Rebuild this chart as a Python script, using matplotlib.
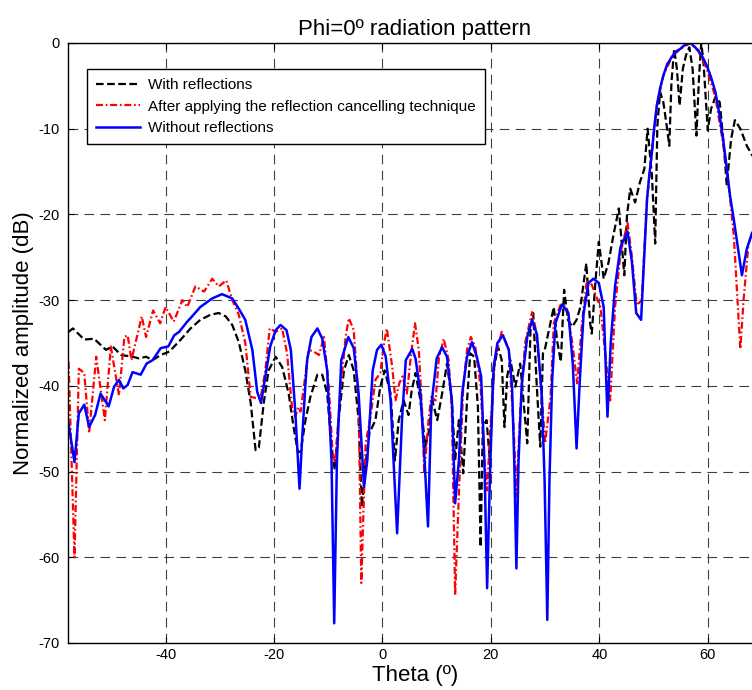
import matplotlib
matplotlib.use("Agg")
import matplotlib.pyplot as plt

plt.rcParams['font.family'] = ['Liberation Sans', 'DejaVu Sans']
plt.rcParams['axes.unicode_minus'] = False
plt.rcParams['lines.scale_dashes'] = False

# (theta in deg, normalized amplitude in dB)
theta_with = [-57.9, -57.1, -55.0, -53.2, -51.0, -49.8, -48.2, -46.1, -44.9, -43.6, -42.4, -40.9,
              -39.3, -37.2, -35.4, -33.6, -31.7, -30.2, -28.9, -27.7, -26.5, -25.3, -24.3, -23.4,
              -22.8, -21.9, -21.0, -19.7, -18.5, -17.3, -16.4, -15.6, -15.1, -14.2, -13.3, -12.0,
              -11.1, -10.2, -9.4, -8.8, -8.1, -7.1, -6.2, -5.3, -4.4, -3.8, -3.2, -2.4, -1.3, -0.4,
              0.4, 1.5, 2.3, 3.0, 3.9, 4.8, 5.4, 6.1, 7.0, 7.9, 8.5, 9.2, 10.1, 11.0, 11.9, 12.8,
              13.4, 14.1, 14.9, 15.6, 16.2, 16.9, 17.6, 18.1, 18.5, 19.2, 19.8, 20.5, 21.3, 22.0,
              22.5, 23.0, 23.6, 24.5, 25.4, 26.1, 26.7, 27.3, 27.8, 28.4, 29.1, 29.6, 30.0, 30.7,
              31.6, 32.2, 32.9, 33.5, 34.2, 35.0, 35.8, 36.5, 37.6, 38.3, 38.6, 39.3, 39.9, 40.8,
              41.7, 42.6, 43.6, 44.6, 45.1, 45.7, 46.6, 47.5, 48.3, 48.9, 49.7, 50.3, 50.7, 51.2,
              51.8, 52.5, 52.9, 53.3, 53.8, 54.3, 54.8, 55.4, 56.0, 56.6, 57.2, 57.9, 58.4, 58.8,
              59.2, 60.0, 60.6, 61.4, 62.2, 62.9, 63.5, 64.3, 65.0, 66.0, 67.2, 68.2, 70.0]
db_with = [-33.7, -33.3, -34.6, -34.5, -35.8, -35.4, -36.4, -36.6, -36.8, -36.6, -37.0, -36.4,
           -36.0, -34.6, -33.3, -32.3, -31.7, -31.5, -31.9, -32.9, -34.9, -38.2, -42.0, -47.5,
           -47.2, -42.0, -38.2, -36.6, -37.8, -40.9, -44.8, -47.7, -47.7, -44.0, -41.3, -38.7,
           -38.7, -40.9, -47.1, -49.8, -44.0, -38.2, -36.4, -38.2, -44.0, -54.1, -49.4, -45.5,
           -44.0, -40.1, -38.2, -40.9, -48.7, -44.0, -41.7, -43.4, -40.5, -38.5, -41.7, -47.1,
           -45.5, -41.7, -44.0, -40.9, -37.4, -41.7, -48.7, -44.0, -50.2, -41.7, -36.2, -36.6,
           -42.4, -58.8, -44.8, -44.0, -48.7, -38.2, -35.4, -37.0, -44.8, -38.9, -37.0, -40.1,
           -37.4, -42.4, -46.7, -33.5, -31.5, -39.3, -47.1, -36.2, -35.6, -33.5, -30.8, -34.7,
           -37.2, -28.8, -32.3, -33.1, -32.3, -30.8, -25.7, -32.7, -33.9, -27.7, -23.2, -27.5,
           -25.6, -22.4, -19.3, -27.1, -20.1, -17.0, -18.6, -16.2, -14.7, -10.0, -15.5, -23.4,
           -9.6, -5.7, -6.9, -10.0, -12.0, -4.6, -0.7, -3.0, -7.3, -3.0, -1.4, -0.5, -3.0, -10.8,
           -3.8, 0.0, -2.2, -10.2, -7.7, -6.3, -6.9, -11.6, -16.6, -11.2, -9.0, -10.0, -12.0,
           -13.1, -14.0]

theta_cancel = [-57.9, -56.8, -56.0, -55.0, -54.1, -52.8, -51.2, -50.1, -48.6, -47.6, -47.0, -46.3,
                -44.4, -43.6, -42.3, -41.0, -40.0, -38.5, -36.9, -36.0, -34.5, -32.9, -31.4, -30.2,
                -28.8, -27.7, -26.5, -25.3, -24.3, -22.5, -21.6, -20.8, -19.7, -18.5, -17.6, -16.7,
                -16.1, -15.5, -15.1, -14.5, -13.6, -12.7, -11.7, -10.8, -9.9, -9.2, -8.7, -7.8, -6.8,
                -6.2, -5.3, -4.4, -3.9, -3.4, -3.1, -2.2, -1.3, -0.4, 0.2, 0.8, 1.8, 2.4, 3.1, 3.7,
                4.5, 5.3, 6.0, 6.7, 7.3, 7.7, 8.5, 9.0, 9.8, 10.4, 11.3, 12.2, 12.8, 13.4, 14.1, 14.9,
                15.6, 16.3, 17.1, 18.1, 18.8, 19.3, 19.9, 20.8, 22.0, 23.3, 24.2, 24.7, 25.4, 26.3,
                27.6, 28.3, 29.1, 30.0, 31.0, 31.6, 32.8, 34.0, 35.1, 35.9, 36.8, 37.7, 38.6, 40.2,
                41.1, 42.0, 42.9, 43.9, 45.2, 46.0, 46.9, 47.8, 48.8, 49.7, 50.6, 51.8, 53.4, 54.9,
                56.8, 58.3, 59.8, 61.4, 62.9, 64.1, 64.8, 65.3, 66.0, 66.6, 67.5, 68.2, 70.0]
db_cancel = [-37.2, -60.0, -38.0, -38.5, -45.5, -36.6, -44.0, -35.4, -41.1, -34.3, -34.1, -37.0,
             -31.9, -34.3, -31.2, -32.7, -30.8, -32.5, -30.0, -30.8, -28.4, -29.0, -27.5, -28.4,
             -27.7, -30.0, -31.7, -35.0, -41.3, -41.5, -38.2, -33.3, -33.7, -33.3, -36.2, -42.4,
             -43.6, -42.5, -43.0, -40.1, -35.8, -36.0, -36.4, -34.3, -40.1, -47.9, -49.0, -40.9,
             -34.3, -32.1, -33.5, -41.7, -63.0, -52.5, -46.7, -43.6, -39.3, -38.5, -35.4, -33.3,
             -37.8, -41.7, -39.7, -38.9, -40.9, -36.2, -32.7, -35.8, -42.8, -50.2, -44.0, -41.3,
             -41.7, -36.8, -34.5, -37.0, -42.8, -64.4, -52.5, -40.1, -35.8, -34.3, -35.4, -40.1,
             -48.7, -52.2, -44.8, -36.6, -33.7, -35.8, -44.8, -52.9, -42.8, -35.0, -31.4, -33.5,
             -38.7, -46.7, -41.3, -32.7, -30.6, -30.8, -35.4, -39.7, -32.7, -27.7, -28.2, -30.8,
             -36.2, -41.7, -30.8, -24.5, -21.0, -24.9, -30.6, -30.0, -18.2, -12.7, -7.3, -3.8,
             -1.6, -0.7, 0.0, -1.0, -3.0, -6.3, -12.0, -18.0, -22.5, -28.0, -35.7, -30.0, -23.5,
             -22.1, -21.5]

theta_without = [-57.9, -56.8, -56.0, -55.0, -54.1, -53.0, -52.0, -50.5, -49.5, -48.6, -47.8, -47.0,
                 -46.1, -44.6, -43.5, -42.4, -40.9, -39.5, -38.4, -37.5, -36.0, -35.4, -33.6, -31.4,
                 -29.6, -27.7, -26.5, -25.3, -24.0, -23.1, -22.4, -21.6, -20.7, -19.7, -18.8, -17.7,
                 -16.9, -16.1, -15.3, -14.8, -14.2, -13.9, -13.1, -12.0, -11.1, -10.2, -9.4, -8.9,
                 -8.4, -7.6, -6.3, -5.3, -4.4, -3.4, -2.8, -1.8, -1.0, -0.2, 0.6, 1.5, 2.7, 3.6, 4.3,
                 5.5, 6.1, 7.0, 7.7, 8.4, 9.0, 10.0, 11.0, 11.9, 12.8, 13.4, 14.1, 14.7, 15.6, 16.5,
                 17.4, 18.2, 18.8, 19.3, 19.9, 20.5, 21.2, 22.2, 23.3, 23.9, 24.3, 24.7, 25.1, 25.7,
                 26.7, 27.6, 28.5, 29.4, 29.9, 30.4, 30.8, 31.3, 31.9, 33.1, 34.3, 35.1, 35.8, 36.4,
                 37.1, 38.0, 38.9, 39.9, 40.8, 41.5, 42.1, 42.9, 43.9, 45.2, 46.0, 46.8, 47.7, 48.8,
                 49.2, 49.7, 50.1, 50.6, 51.2, 51.8, 52.5, 53.4, 54.1, 54.9, 55.8, 56.8, 57.5, 58.3,
                 59.0, 59.8, 60.6, 61.4, 62.2, 62.9, 63.5, 64.1, 64.8, 65.4, 66.3, 67.2, 68.2, 70.0]
db_without = [-44.4, -48.9, -43.2, -42.2, -44.8, -43.4, -40.9, -42.4, -40.1, -39.3, -40.3, -39.9,
              -38.4, -38.7, -37.4, -37.0, -35.6, -35.4, -34.1, -33.7, -32.5, -32.1, -30.8, -29.8,
              -29.3, -29.8, -31.0, -32.3, -35.8, -40.7, -42.0, -38.9, -35.4, -33.5, -32.9, -33.5,
              -35.8, -42.8, -52.0, -46.0, -39.7, -37.0, -34.3, -33.3, -34.5, -38.2, -48.7, -67.7,
              -48.7, -37.0, -34.3, -35.6, -40.9, -51.8, -48.7, -38.2, -35.8, -35.2, -36.6, -41.7,
              -57.2, -44.0, -37.0, -35.7, -36.8, -40.9, -47.9, -56.4, -42.4, -36.8, -35.5, -36.6,
              -41.7, -53.7, -48.7, -40.9, -36.6, -34.9, -36.6, -38.9, -48.7, -63.6, -48.7, -37.8,
              -35.0, -34.1, -35.8, -40.1, -48.7, -61.3, -48.7, -39.7, -34.3, -32.3, -34.0, -41.3,
              -51.0, -67.3, -51.0, -39.3, -32.7, -30.5, -31.5, -37.4, -47.3, -39.3, -31.5, -28.0,
              -27.5, -28.0, -30.8, -43.6, -35.0, -28.4, -23.8, -22.0, -25.5, -31.5, -32.3, -18.2,
              -15.5, -12.7, -10.0, -7.3, -5.3, -3.8, -2.5, -1.6, -1.0, -0.7, -0.2, 0.0, -0.4, -0.9,
              -1.6, -2.6, -4.0, -5.7, -8.5, -11.6, -14.6, -17.8, -20.6, -23.2, -27.1, -24.0, -22.1,
              -21.5]

fig = plt.figure(figsize=(7.52, 6.9), dpi=100)
ax = fig.add_axes([68 / 752, 1 - 643 / 690, 694 / 752, 600 / 690])

ax.plot(theta_with, db_with, color='black', lw=1.6, dashes=(5.5, 2.5), label='With reflections')
ax.plot(theta_cancel, db_cancel, color='red', lw=1.6, dashes=(5, 2, 1.2, 2),
        label='After applying the reflection cancelling technique')
ax.plot(theta_without, db_without, color='#0000ff', lw=1.8, label='Without reflections')

ax.set_xlim(-58, 70)
ax.set_ylim(-70, 0)
ax.set_xticks([-40, -20, 0, 20, 40, 60])
ax.set_yticks(range(-70, 1, 10))
ax.grid(True, color='0.25', lw=0.8, dashes=(7, 4.5))
ax.tick_params(direction='in', labelsize=10.5, length=4, top=True, right=True)
ax.tick_params(axis='y', pad=6)
for s in ax.spines.values():
    s.set_linewidth(1.0)

ax.set_title('Phi=0º radiation pattern', fontsize=16, pad=6)
ax.set_xlabel('Theta (º)', fontsize=16, labelpad=2)
ax.set_ylabel('Normalized amplitude (dB)', fontsize=16, labelpad=3)

leg = ax.legend(loc='upper left', bbox_to_anchor=(0.027, 0.957), borderaxespad=0,
                fontsize=11, fancybox=False, framealpha=1, edgecolor='black',
                handlelength=2.9, handletextpad=0.5, labelspacing=0.5, borderpad=0.6)
leg.get_frame().set_linewidth(1.0)

fig.savefig('out.png', dpi=100)
